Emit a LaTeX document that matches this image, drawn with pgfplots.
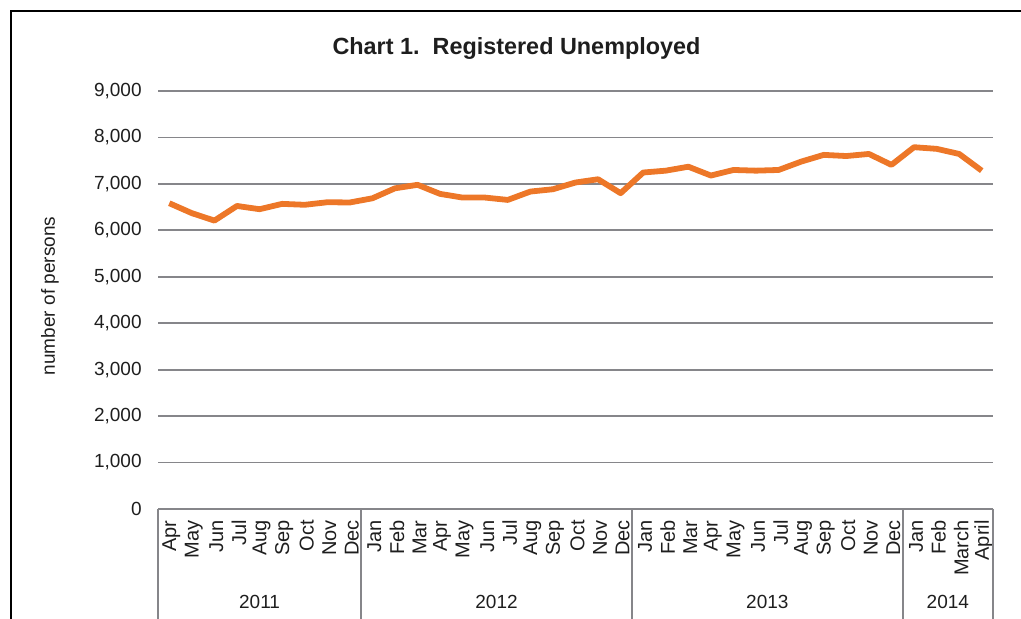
\documentclass[border=0pt]{standalone}
\usepackage{pgfplots}
\pgfplotsset{compat=1.18}
\usepackage{fontspec}
\setmainfont{Liberation Sans}
\definecolor{gridgray}{RGB}{134,134,138}
\definecolor{lineorange}{RGB}{237,119,40}
\definecolor{txt}{RGB}{30,30,30}

\begin{document}
\begin{tikzpicture}
\useasboundingbox (0,0) rectangle (510.5pt,309.5pt);
% frame (cut off at right and bottom)
\draw[black, line width=1pt] (5.5pt,0) -- (5.5pt,304pt) -- (510.5pt,304pt);
\node[font=\fontsize{11.7}{14}\selectfont\bfseries, text=txt] at (258.25pt,285pt) {Chart 1.\ \ Registered Unemployed};
\node[font=\fontsize{9.5}{11}\selectfont, text=txt, rotate=90] at (25pt,161.5pt) {number of persons};
\begin{axis}[
    at={(79pt,55pt)}, anchor=south west,
    scale only axis, width=417.5pt, height=209pt,
    xmin=-0.5, xmax=36.5, ymin=0, ymax=9000,
    ytick={0,1000,...,9000},
    xtick={0,...,36},
    xticklabels={Apr,May,Jun,Jul,Aug,Sep,Oct,Nov,Dec,
      Jan,Feb,Mar,Apr,May,Jun,Jul,Aug,Sep,Oct,Nov,Dec,
      Jan,Feb,Mar,Apr,May,Jun,Jul,Aug,Sep,Oct,Nov,Dec,
      Jan,Feb,March,April},
    major tick length=0pt,
    axis x line*=bottom, axis y line*=left,
    x axis line style={gridgray, line width=0.9pt, -},
    y axis line style={draw=none},
    ymajorgrids, grid style={gridgray, line width=0.9pt},
    yticklabel style={font=\fontsize{9.5}{11}\selectfont, text=txt, anchor=east, inner sep=0pt, xshift=-8pt},
    xticklabel style={font=\fontsize{10}{12}\selectfont, text=txt, yshift=-5.5pt, xshift=1pt, rotate=90, anchor=east, inner sep=0pt},
    /pgf/number format/.cd, 1000 sep={,}, assume math mode=true,
    /pgfplots/.cd,
    clip=false,
]
\addplot[lineorange, line width=2.9pt, line join=round] coordinates {
(0,6584) (1,6370) (2,6210) (3,6525) (4,6455) (5,6570) (6,6550) (7,6605) (8,6600)
(9,6690) (10,6905) (11,6980) (12,6785) (13,6705) (14,6705) (15,6655) (16,6835) (17,6885) (18,7030) (19,7100) (20,6800)
(21,7245) (22,7285) (23,7370) (24,7180) (25,7300) (26,7285) (27,7300) (28,7480) (29,7625) (30,7600) (31,7645) (32,7410)
(33,7790) (34,7755) (35,7645) (36,7285)
};
\foreach \xx in {-0.5,8.5,20.5,32.5,36.5} {
  \edef\temp{\noexpand\draw[gridgray, line width=0.9pt] (axis cs:\xx,0) -- ([yshift=-56pt]axis cs:\xx,0);}
  \temp
}
\node[font=\fontsize{9.5}{11}\selectfont, text=txt] at ([yshift=-46.5pt]axis cs:4,0) {2011};
\node[font=\fontsize{9.5}{11}\selectfont, text=txt] at ([yshift=-46.5pt]axis cs:14.5,0) {2012};
\node[font=\fontsize{9.5}{11}\selectfont, text=txt] at ([yshift=-46.5pt]axis cs:26.5,0) {2013};
\node[font=\fontsize{9.5}{11}\selectfont, text=txt] at ([yshift=-46.5pt]axis cs:34.5,0) {2014};
\end{axis}
\end{tikzpicture}
\end{document}
